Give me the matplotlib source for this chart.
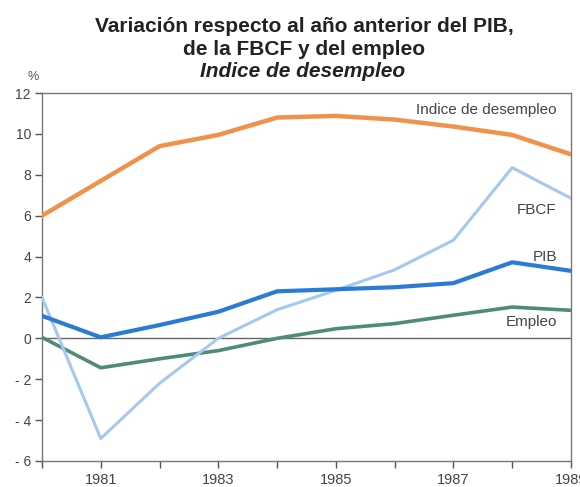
import numpy as np
import matplotlib.pyplot as plt

plt.rcParams['font.family'] = ['Liberation Sans', 'DejaVu Sans']

years = [1980, 1981, 1982, 1983, 1984, 1985, 1986, 1987, 1988, 1989]
desempleo = [6.0, 7.7, 9.4, 9.95, 10.8, 10.88, 10.7, 10.36, 9.95, 9.0]
fbcf = [2.0, -4.9, -2.2, 0.0, 1.4, 2.35, 3.35, 4.8, 8.35, 6.85]
pib = [1.1, 0.05, 0.65, 1.3, 2.3, 2.4, 2.5, 2.7, 3.72, 3.3]
empleo = [0.05, -1.44, -1.0, -0.6, 0.0, 0.47, 0.72, 1.13, 1.53, 1.37]

yticks = [-6, -4, -2, 0, 2, 4, 6, 8, 10, 12]
yticklabels = ['- 6', '- 4', '- 2', '0', '2', '4', '6', '8', '10', '12']
xlabels = ['1981', '1983', '1985', '1987', '1989']

fig = plt.figure(figsize=(5.8, 4.87), dpi=100)
ax = fig.add_axes([0.0724, 0.0534, 0.912, 0.7556])

ax.axhline(0, color='#666666', linewidth=1.0, zorder=1)

ax.plot(years, empleo, color='#4f8c77', linewidth=2.6, zorder=2)
ax.plot(years, fbcf, color='#a4c8ee', linewidth=2.2, zorder=3)
ax.plot(years, pib, color='#2b7bd4', linewidth=3.0, zorder=4)
ax.plot(years, desempleo, color='#f0924c', linewidth=3.2, zorder=5)

ax.set_xlim(1980, 1989)
ax.set_ylim(-6, 12)
ax.set_yticks(yticks)
ax.set_yticklabels(yticklabels)
ax.set_xticks(years)
ax.set_xticklabels(['' if str(y) not in xlabels else str(y) for y in years])

for s in ax.spines.values():
    s.set_color('#777777')
    s.set_linewidth(1.0)
ax.tick_params(axis='both', colors='#555555', labelcolor='#444444',
               length=5, width=1.0, direction='out')
ax.tick_params(axis='y', labelsize=10, pad=3)
ax.tick_params(axis='x', labelsize=10.5, pad=3.5)

lx = 1989 - 0.24
ax.text(lx, 11.15, 'Indice de desempleo', ha='right', va='center', fontsize=11, color='#444444')
ax.text(lx, 6.27, 'FBCF', ha='right', va='center', fontsize=11, color='#444444')
ax.text(lx, 4.0, 'PIB', ha='right', va='center', fontsize=11, color='#444444')
ax.text(lx, 0.8, 'Empleo', ha='right', va='center', fontsize=11, color='#444444')

fig.text(0.057, 0.842, '%', ha='center', va='center', fontsize=9, color='#555555')

fig.text(0.525, 0.934, 'Variación respecto al año anterior del PIB,', ha='center',
         va='baseline', fontsize=15, fontweight='bold', color='#222222')
fig.text(0.525, 0.887, 'de la FBCF y del empleo', ha='center', va='baseline',
         fontsize=15, fontweight='bold', color='#222222')
fig.text(0.522, 0.842, 'Indice de desempleo', ha='center', va='baseline', fontsize=15,
         fontweight='bold', fontstyle='italic', color='#222222')

fig.savefig('out.png', dpi=100)
